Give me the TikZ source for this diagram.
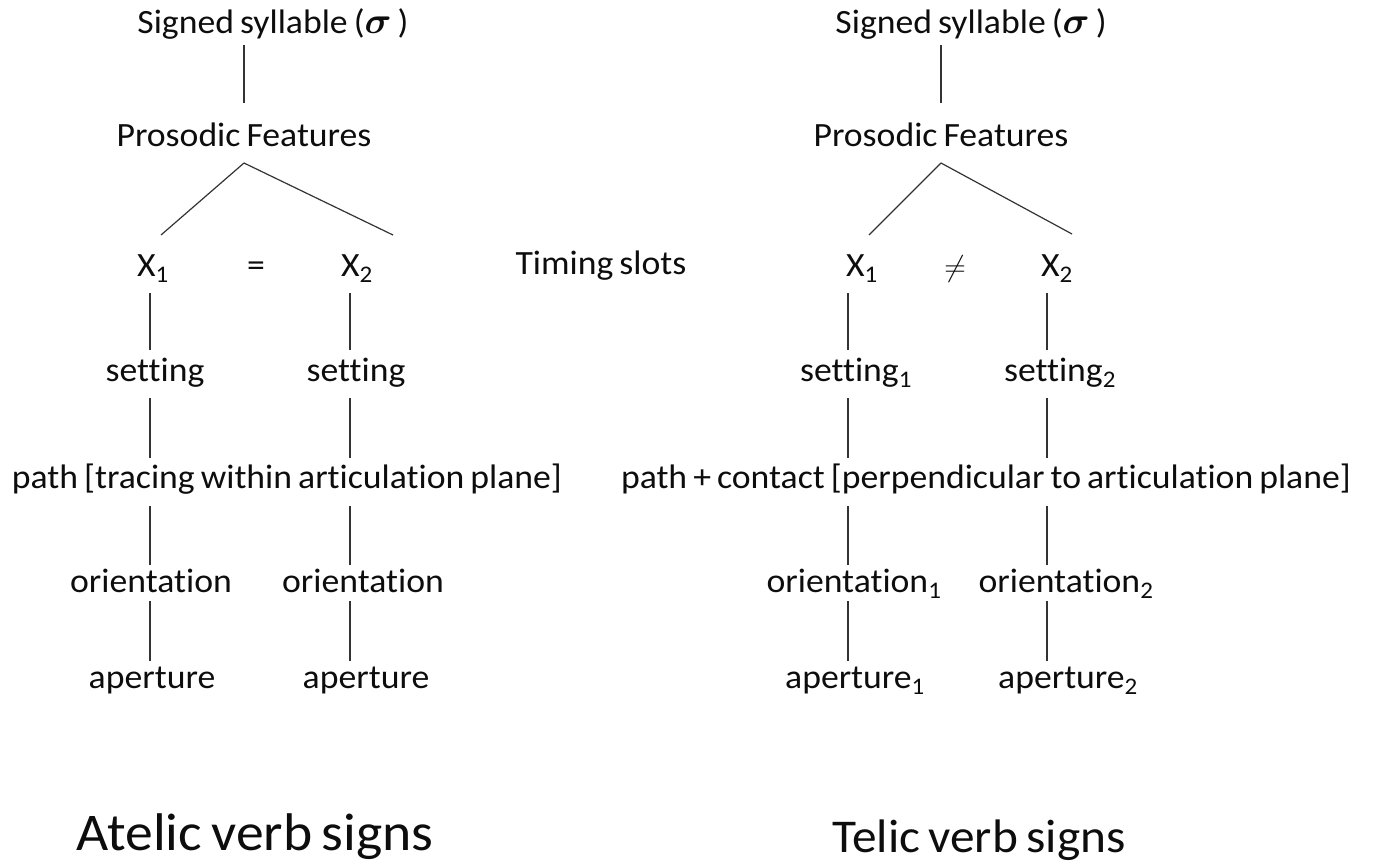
\documentclass[tikz,border=0pt]{standalone}
\usepackage{amsmath}
\usepackage{graphicx}
\usepackage{fontspec}
\setmainfont{Carlito}[Ligatures=CommonOff, FakeStretch=1.05, WordSpace=0.75]
\newcommand{\sylsig}{\scalebox{1.5}{$\boldsymbol{\sigma}$}}
\begin{document}
\begin{tikzpicture}[x=1pt,y=-1pt,
  lbl/.style={font=\fontsize{34}{40}\selectfont, inner sep=0pt, anchor=base, text=black!95},
  big/.style={font=\fontsize{53}{60}\selectfont, inner sep=0pt, anchor=base, text=black!95},
  mid/.style={font=\fontsize{47}{54}\selectfont, inner sep=0pt, anchor=base, text=black!95},
  edge/.style={line width=1.2pt, black!80}]
\useasboundingbox (0,0) rectangle (1375,863);

% columns of the vertical tree lines
\coordinate (cL1) at (150,0);
\coordinate (cL2) at (350,0);
\coordinate (cR1) at (848,0);
\coordinate (cR2) at (1047,0);

% ---------- atelic tree ----------
\node[lbl] (sigL) at (273,33) {Signed syllable (\sylsig\ )};
\node[lbl] (pfL) at (244,146) {Prosodic Features};
\node[lbl] (xL1) at (153,276) {X\textsubscript{1}};
\node[lbl] (eqL) at (256,276) {=};
\node[lbl] (xL2) at (357,276) {X\textsubscript{2}};
\node[lbl] (setL1) at (155,381) {setting};
\node[lbl] (setL2) at (356,381) {setting};
\node[lbl] (pathL) at (287,488) {path [tracing within articulation plane]};
\node[lbl] (oriL1) at (151,592) {orientation};
\node[lbl] (oriL2) at (363,592) {orientation};
\node[lbl] (apL1) at (152,688) {aperture};
\node[lbl] (apL2) at (366,688) {aperture};
\node[big] (atelic) at (255,850) {Atelic verb signs};

\node[lbl] (timing) at (601,274) {Timing slots};

% ---------- telic tree ----------
\node[lbl] (sigR) at (971,33) {Signed syllable (\sylsig\ )};
\node[lbl] (pfR) at (941,146) {Prosodic Features};
\node[lbl] (xR1) at (862,276) {X\textsubscript{1}};
\node[lbl] (neqR) at (955,276) {\scalebox{1.2}{$\neq$}};
\node[lbl] (xR2) at (1057,276) {X\textsubscript{2}};
\node[lbl] (setR1) at (856,381) {setting\textsubscript{1}};
\node[lbl] (setR2) at (1060,381) {setting\textsubscript{2}};
\node[lbl] (pathR) at (986,488) {path + contact [perpendicular to articulation plane]};
\node[lbl] (oriR1) at (854,592) {orientation\textsubscript{1}};
\node[lbl] (oriR2) at (1066,592) {orientation\textsubscript{2}};
\node[lbl] (apR1) at (855,688) {aperture\textsubscript{1}};
\node[lbl] (apR2) at (1068,688) {aperture\textsubscript{2}};
\node[mid] (telic) at (979,852) {Telic verb signs};

% ---------- connectors ----------
\draw[edge, shorten <=12pt, shorten >=43pt] (sigL.base -| pfL.base) -- (pfL.base);
\draw[edge] ([yshift=-17pt]pfL.base) -- ([xshift=8pt,yshift=41pt]xL1.base);
\draw[edge] ([yshift=-17pt]pfL.base) -- ([xshift=36pt,yshift=41pt]xL2.base);

\draw[edge, shorten <=12pt, shorten >=43pt] (sigR.base -| pfR.base) -- (pfR.base);
\draw[edge] ([yshift=-17pt]pfR.base) -- ([xshift=7pt,yshift=41pt]xR1.base);
\draw[edge] ([yshift=-17pt]pfR.base) -- ([xshift=15pt,yshift=42pt]xR2.base);

\foreach \c/\a/\b/\p/\q/\r in {
  cL1/xL1/setL1/pathL/oriL1/apL1,
  cL2/xL2/setL2/pathL/oriL2/apL2,
  cR1/xR1/setR1/pathR/oriR1/apR1,
  cR2/xR2/setR2/pathR/oriR2/apR2}{
  \draw[edge, shorten <=17pt, shorten >=31pt] (\a.base -| \c) -- (\b.base -| \c);
  \draw[edge, shorten <=17pt, shorten >=30pt] (\b.base -| \c) -- (\p.base -| \c);
  \draw[edge, shorten <=18pt, shorten >=27pt] (\p.base -| \c) -- (\q.base -| \c);
  \draw[edge, shorten <=9pt, shorten >=27pt] (\q.base -| \c) -- (\r.base -| \c);
}
\end{tikzpicture}
\end{document}
